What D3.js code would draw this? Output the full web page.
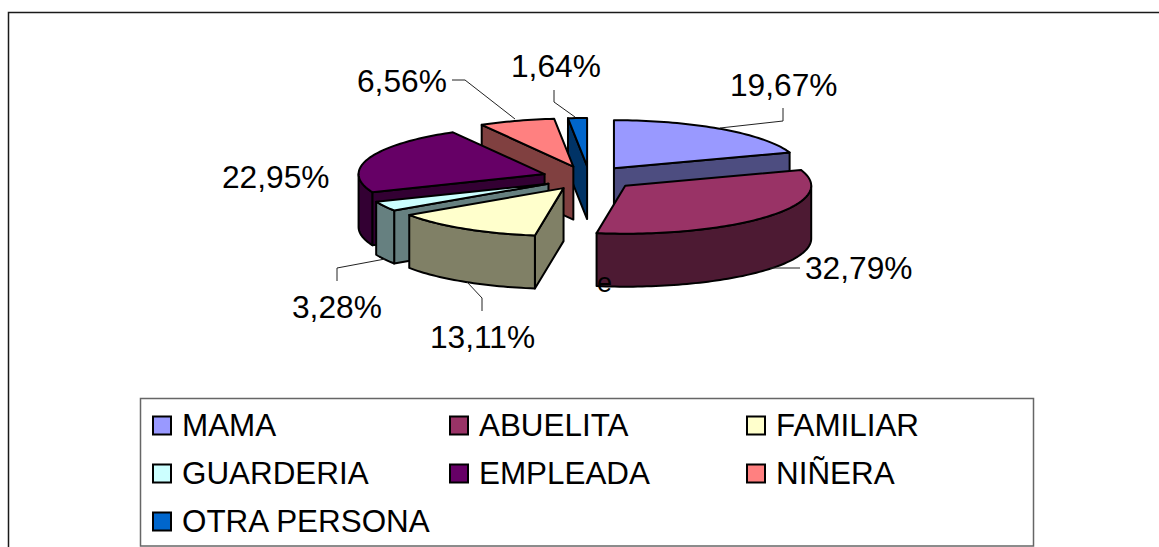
<!DOCTYPE html>
<html>
<head>
<meta charset="utf-8">
<script src="https://cdn.jsdelivr.net/npm/d3@7"></script>
<style>
  html, body { margin: 0; padding: 0; background: #fff; overflow: hidden; }
  text { font-family: "Liberation Sans", Arial, sans-serif; fill: #000; }
</style>
</head>
<body>
<div id="chart"></div>
<script>
// DATA
var categories = ['MAMA', 'ABUELITA', 'FAMILIAR', 'GUARDERIA', 'EMPLEADA', 'NIÑERA', 'OTRA PERSONA'];
var percents = [19.67, 32.79, 13.11, 3.28, 22.95, 6.56, 1.64];
var colors = ['#9999ff', '#993366', '#ffffcc', '#ccffff', '#660066', '#ff8080', '#0066cc'];

// LABEL LAYOUT (same order as categories)
var labelPos = [[730, 96], [805, 279], [430, 348], [292, 318], [222, 188], [357, 92], [511, 77]];
var leaders = [
  [[720, 128], [783, 121], [783, 108]],
  [[770, 268], [800, 268]],
  [[467, 282], [482, 298], [482, 311]],
  [[385, 259], [337, 268], [337, 281]],
  [],
  [[515, 119], [465, 80], [452, 80]],
  [[575, 117], [554, 102], [554, 90]]
];
// small sideways correction of each slice, the original perspective is not exact
var nudgeX = [-2.5, 0, -1, 0, -1, -2, 0];

// CHART SIZE AND PROJECTION
var width = 1159;
var height = 547;
var cx = 589.5;
var cy = 178;
var rx = 186;
var ry = 48;
var depth = 53;
var explode = 0.25;
var labelSize = 31.7;
var legendSize = 31.4;

var svg = d3.select('#chart').append('svg')
  .attr('width', width)
  .attr('height', height)
  .style('display', 'block');

// OUTER FRAME, ONLY LEFT AND TOP SHOW UP IN THE PICTURE
svg.append('path')
  .attr('d', 'M8.5,' + height + 'V12.5H' + width)
  .attr('fill', 'none')
  .attr('stroke', '#1a1a1a')
  .attr('stroke-width', 1.5);

// ANGLES ARE CLOCKWISE FROM 12 O'CLOCK, SAME AS THE ORIGINAL
var slices = d3.pie().sort(null).value(function(d) { return d; })(percents);

// x and y scales of the tilted unit circle
var xScale = d3.scaleLinear().domain([-1, 1]).range([-rx, rx]);
var yScale = d3.scaleLinear().domain([-1, 1]).range([ry, -ry]);

slices.forEach(function(s, i) {
  var mid = (s.startAngle + s.endAngle) / 2;
  s.ox = cx + explode * xScale(Math.sin(mid)) + nudgeX[i];
  s.oy = cy + explode * yScale(Math.cos(mid));
});

function rim(s, a, drop) {
  return [s.ox + xScale(Math.sin(a)), s.oy + yScale(Math.cos(a)) + drop];
}

function arcPoints(s, a0, a1, drop) {
  var n = Math.max(2, Math.ceil((a1 - a0) * 40));
  return d3.range(n + 1).map(function(i) {
    return rim(s, a0 + (a1 - a0) * i / n, drop);
  });
}

function wallColor(c) {
  var r = d3.rgb(c);
  return d3.rgb(r.r / 2, r.g / 2, r.b / 2).formatHex();
}

var line = d3.line();

// PAINTER ORDER: BACK SLICES FIRST
var drawOrder = [6, 5, 0, 4, 3, 2, 1];
var pie3d = svg.append('g').attr('stroke', '#000').attr('stroke-width', 2).attr('stroke-linejoin', 'round');

drawOrder.forEach(function(i) {
  var s = slices[i];
  var a0 = s.startAngle;
  var a1 = s.endAngle;
  var g = pie3d.append('g');
  var dark = wallColor(colors[i]);
  var apex = [s.ox, s.oy];
  var apexLow = [s.ox, s.oy + depth];

  // radial wall facing the viewer
  if (Math.sin(a0) < 0) {
    g.append('path')
      .attr('d', line([apex, rim(s, a0, 0), rim(s, a0, depth), apexLow]) + 'Z')
      .attr('fill', dark);
  }
  if (Math.sin(a1) > 0) {
    g.append('path')
      .attr('d', line([apex, rim(s, a1, 0), rim(s, a1, depth), apexLow]) + 'Z')
      .attr('fill', dark);
  }

  // outer wall, only the front half of the rim
  var w0 = Math.max(a0, Math.PI / 2);
  var w1 = Math.min(a1, Math.PI * 1.5);
  if (w1 > w0) {
    var pts = arcPoints(s, w0, w1, 0).concat(arcPoints(s, w0, w1, depth).reverse());
    g.append('path').attr('d', line(pts) + 'Z').attr('fill', dark);
  }

  // top face
  g.append('path')
    .attr('d', line([apex].concat(arcPoints(s, a0, a1, 0))) + 'Z')
    .attr('fill', colors[i]);
});

// LEADER LINES
svg.append('g').selectAll('path')
  .data(leaders.filter(function(d) { return d.length; }))
  .enter()
  .append('path')
  .attr('d', line)
  .attr('fill', 'none')
  .attr('stroke', '#222')
  .attr('stroke-width', 1);

// VALUE LABELS
svg.append('g').selectAll('text')
  .data(percents)
  .enter()
  .append('text')
  .attr('x', function(d, i) { return labelPos[i][0]; })
  .attr('y', function(d, i) { return labelPos[i][1]; })
  .attr('font-size', labelSize)
  .text(function(d) { return d.toFixed(2).replace('.', ',') + '%'; });

// stray glyph that sits on the corner of the ABUELITA slice
svg.append('text')
  .attr('x', 597)
  .attr('y', 292)
  .attr('font-size', 27)
  .text('e');

// LEGEND
var legend = svg.append('g');
legend.append('rect')
  .attr('x', 140.5)
  .attr('y', 398.5)
  .attr('width', 893)
  .attr('height', 147.5)
  .attr('fill', '#fff')
  .attr('stroke', '#666')
  .attr('stroke-width', 1.5);

var legendColX = d3.scaleLinear().domain([0, 2]).range([153, 747]);
var legendRowY = d3.scaleLinear().domain([0, 2]).range([425.5, 521.5]);

var items = legend.selectAll('.legend')
  .data(categories)
  .enter()
  .append('g')
  .attr('class', 'legend')
  .attr('transform', function(d, i) {
    return 'translate(' + legendColX(i % 3) + ',' + legendRowY(Math.floor(i / 3)) + ')';
  });

items.append('rect')
  .attr('y', -9)
  .attr('width', 18)
  .attr('height', 18)
  .attr('fill', function(d, i) { return colors[i]; })
  .attr('stroke', '#000')
  .attr('stroke-width', 2);

items.append('text')
  .attr('x', 29)
  .attr('y', 10)
  .attr('font-size', legendSize)
  .text(function(d) { return d; });
</script>
</body>
</html>
